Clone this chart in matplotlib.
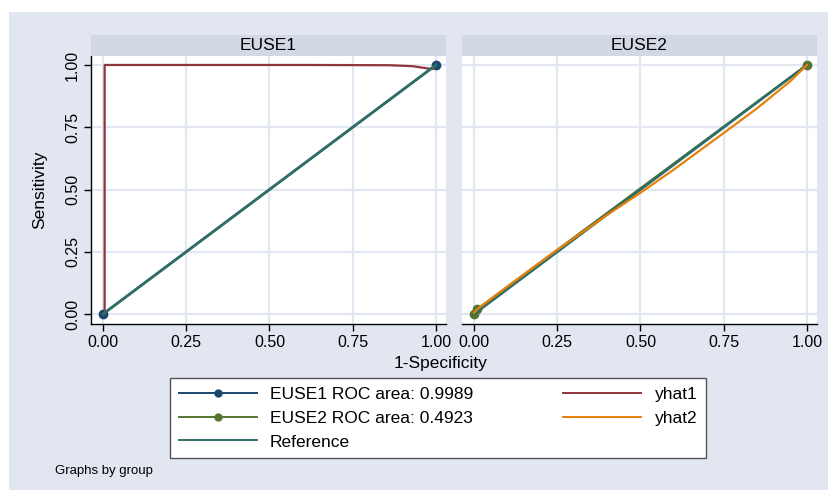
import numpy as np
import matplotlib
matplotlib.use("Agg")
import matplotlib.pyplot as plt
from matplotlib.lines import Line2D
from matplotlib.patches import Rectangle

plt.rcParams["font.family"] = ["Liberation Sans", "DejaVu Sans"]

# ================= DATA =================
panels = ["EUSE1", "EUSE2"]

# empirical ROC points per group
roc1_x = [0.0, 1.0]
roc1_y = [0.0, 1.0]
roc2_x = [0.0, 0.01, 1.0]
roc2_y = [0.0, 0.02, 1.0]

# fitted curves
yhat1_x = [0.0, 0.005, 0.005, 0.30, 0.60, 0.86, 0.93, 0.975, 0.99, 1.0]
yhat1_y = [0.0, 0.0, 1.0, 1.0, 1.0, 0.999, 0.995, 0.986, 0.984, 1.0]
yhat2_x = [0.0, 0.01, 0.10, 0.25, 0.40, 0.50, 0.60, 0.75, 0.85, 0.95, 1.0]
yhat2_y = [0.005, 0.02, 0.11, 0.258, 0.398, 0.487, 0.58, 0.727, 0.826, 0.935, 1.0]

ref_x = [0.0, 1.0]
ref_y = [0.0, 1.0]

auc = [0.9989, 0.4923]
ticks = [0.0, 0.25, 0.5, 0.75, 1.0]
tick_labels = ["0.00", "0.25", "0.50", "0.75", "1.00"]
# ========================================

W, H = 829, 490
BG = "#e1e6f0"
STRIP = "#d2d9e4"
GRID = "#e3e7f1"
C_NAVY = "#1a476f"
C_GREEN = "#55752f"
C_REF = "#2f6e66"
C_MAROON = "#90353b"
C_ORANGE = "#e8800a"

fig = plt.figure(figsize=(W / 100, H / 100), dpi=100)
fig.patch.set_facecolor("white")
fig.patches.append(Rectangle((9 / W, 0), 1 - 9 / W, 1 - 12 / H,
                             transform=fig.transFigure, facecolor=BG,
                             edgecolor="none", zorder=-10))


def fx(px):
    return px / W


def fy(py):
    return 1 - py / H


plot_top, plot_bot = 56, 324
lefts = [(91, 446), (462, 817)]
rocs = [(roc1_x, roc1_y, C_NAVY), (roc2_x, roc2_y, C_GREEN)]

for i, (x0, x1) in enumerate(lefts):
    ax = fig.add_axes([fx(x0), fy(plot_bot), fx(x1 - x0), (plot_bot - plot_top) / H])
    ax.set_facecolor("white")
    ax.set_xlim(-0.036, 1.030)
    ax.set_ylim(-0.040, 1.036)
    ax.set_xticks(ticks)
    ax.set_xticklabels(tick_labels, fontsize=11.5)
    ax.set_yticks(ticks)
    ax.grid(True, color=GRID, linewidth=1.6)
    ax.set_axisbelow(True)
    for s in ["top", "right"]:
        ax.spines[s].set_visible(False)
    ax.spines["bottom"].set_linewidth(1.0)
    ax.tick_params(axis="x", direction="out", length=5, width=1, pad=3)
    if i == 0:
        ax.set_yticklabels(tick_labels, fontsize=11.5, rotation=90, va="center")
        ax.tick_params(axis="y", direction="out", length=5, width=1, pad=3)
        ax.spines["left"].set_linewidth(1.0)
    else:
        ax.spines["left"].set_visible(False)
        ax.tick_params(axis="y", length=0, labelleft=False)

    rx, ry, rc = rocs[i]
    ax.plot(rx, ry, color=rc, lw=1.6, marker="o", ms=6, zorder=3)
    if i == 0:
        ax.plot(yhat1_x, yhat1_y, color=C_MAROON, lw=1.6, zorder=4)
        ax.plot(ref_x, ref_y, color=C_REF, lw=2.0, zorder=5)
    else:
        ax.plot(ref_x, ref_y, color=C_REF, lw=2.0, zorder=4)
        ax.plot(yhat2_x, yhat2_y, color=C_ORANGE, lw=1.6, zorder=5)

    # strip title
    fig.patches.append(Rectangle((fx(x0), fy(plot_top)), fx(x1 - x0), 21 / H,
                                 transform=fig.transFigure, facecolor=STRIP,
                                 edgecolor="none"))
    fig.text(fx((x0 + x1) / 2), fy(45.5), panels[i], ha="center", va="center",
             fontsize=12.5)

fig.text(fx(40), fy(190), "Sensitivity", rotation=90, ha="center", va="center",
         fontsize=12.5)
fig.text(fx(441), fy(363), "1-Specificity", ha="center", va="center", fontsize=12.5)

handles = [
    Line2D([], [], color=C_NAVY, lw=1.4, marker="o", ms=5),
    Line2D([], [], color=C_GREEN, lw=1.4, marker="o", ms=5),
    Line2D([], [], color=C_REF, lw=1.4),
    Line2D([], [], color=C_MAROON, lw=1.4),
    Line2D([], [], color=C_ORANGE, lw=1.4),
]
labels = [f"EUSE1 ROC area: {auc[0]:.4f}", f"EUSE2 ROC area: {auc[1]:.4f}",
          "Reference", "yhat1", "yhat2"]
leg = fig.legend(handles, labels, ncol=2, loc="upper left",
                 bbox_to_anchor=(fx(170), fy(378)), fontsize=12.5,
                 frameon=True, fancybox=False, framealpha=1,
                 handlelength=4.5, handletextpad=0.75, columnspacing=5.2,
                 labelspacing=0.5, borderpad=0.5, borderaxespad=0)
leg.get_frame().set_edgecolor("#555555")
leg.get_frame().set_linewidth(1.0)

fig.text(fx(55), fy(471), "Graphs by group", ha="left", va="center", fontsize=9.5)

fig.savefig("out.png", dpi=100, facecolor=fig.get_facecolor())
